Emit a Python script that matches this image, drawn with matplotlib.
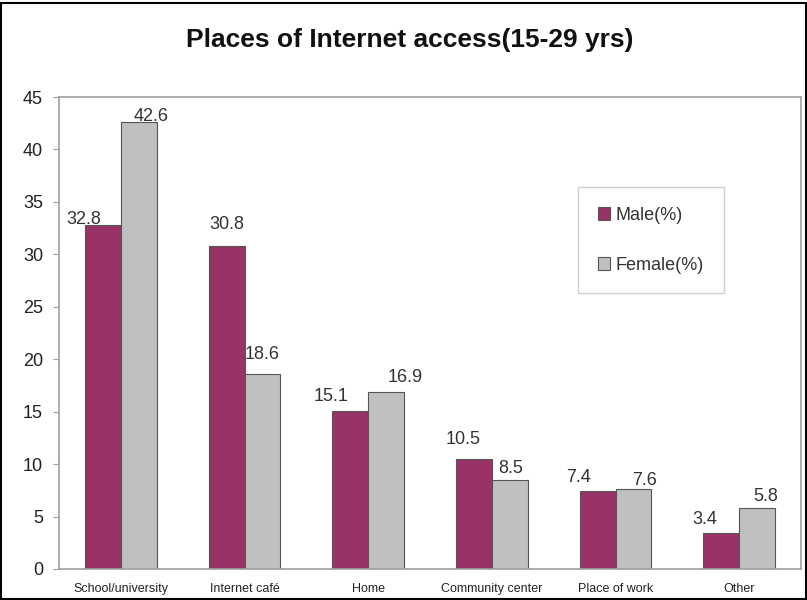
import numpy as np
import matplotlib.pyplot as plt
from matplotlib.patches import Rectangle

places = ["School/university", "Internet café", "Home",
          "Community center", "Place of work", "Other"]
male = [32.8, 30.8, 15.1, 10.5, 7.4, 3.4]
female = [42.6, 18.6, 16.9, 8.5, 7.6, 5.8]

# nudges (points) for the value labels so they sit as on the original slide
male_nudge = [(-14, -2), (0, 9), (-14, 4), (-8, 8), (-14, 4), (-12, 4)]
female_nudge = [(9, -2), (0, 8), (14, 4), (1, 2), (8, 0), (6, 2)]

male_color = '#993366'
female_color = '#c0c0c0'
edge_color = '#555555'
frame_color = '#a0a0a0'
font = ['Liberation Sans', 'DejaVu Sans']

fig = plt.figure(figsize=(8.07, 6.0), dpi=100)
ax = fig.add_axes([0.0731, 0.0517, 0.9195, 0.7866])

index = np.arange(len(places))
width = 0.29
bm = ax.bar(index - width/2, male, width, color=male_color,
            edgecolor=edge_color, linewidth=0.8, label='Male(%)')
bf = ax.bar(index + width/2, female, width, color=female_color,
            edgecolor=edge_color, linewidth=0.8, label='Female(%)')

for bars, vals, nudge in ((bm, male, male_nudge), (bf, female, female_nudge)):
    for b, v, (dx, dy) in zip(bars, vals, nudge):
        ax.annotate(f'{v}', (b.get_x() + b.get_width()/2, v),
                    xytext=(dx, dy), textcoords='offset points',
                    ha='center', va='bottom', fontsize=13,
                    color='#333333', family=font)

ax.set_xlim(-0.5, len(places) - 0.5)
ax.set_ylim(0, 45)
ax.set_yticks(range(0, 46, 5))
ax.set_yticklabels([str(t) for t in range(0, 46, 5)], fontsize=13,
                   family=font, color='#222222')
ax.set_xticks(index)
ax.set_xticklabels(places, fontsize=9, family=font, color='#222222')
ax.tick_params(axis='x', length=0, pad=10)
ax.tick_params(axis='y', length=4.5, color=frame_color, pad=7)
for s in ax.spines.values():
    s.set_color(frame_color)
    s.set_linewidth(1.2)

leg = ax.legend(loc='upper left', bbox_to_anchor=(0.699, 0.809),
                prop={'family': font, 'size': 13},
                handlelength=0.7, handleheight=0.7, handletextpad=0.3,
                labelspacing=1.8, borderpad=1.1, borderaxespad=0,
                fancybox=False, framealpha=1, edgecolor='#d0d0d0')
for t in leg.get_texts():
    t.set_color('#333333')

fig.text(0.508, 0.933, 'Places of Internet access(15-29 yrs)',
         ha='center', va='center', fontsize=19, fontweight='bold',
         family=font, color='#111111')

fig.patches.append(Rectangle((0.001, 0.001), 0.998, 0.994,
                             transform=fig.transFigure, fill=False,
                             edgecolor='black', linewidth=1.5))

fig.savefig('out.png', dpi=100)
